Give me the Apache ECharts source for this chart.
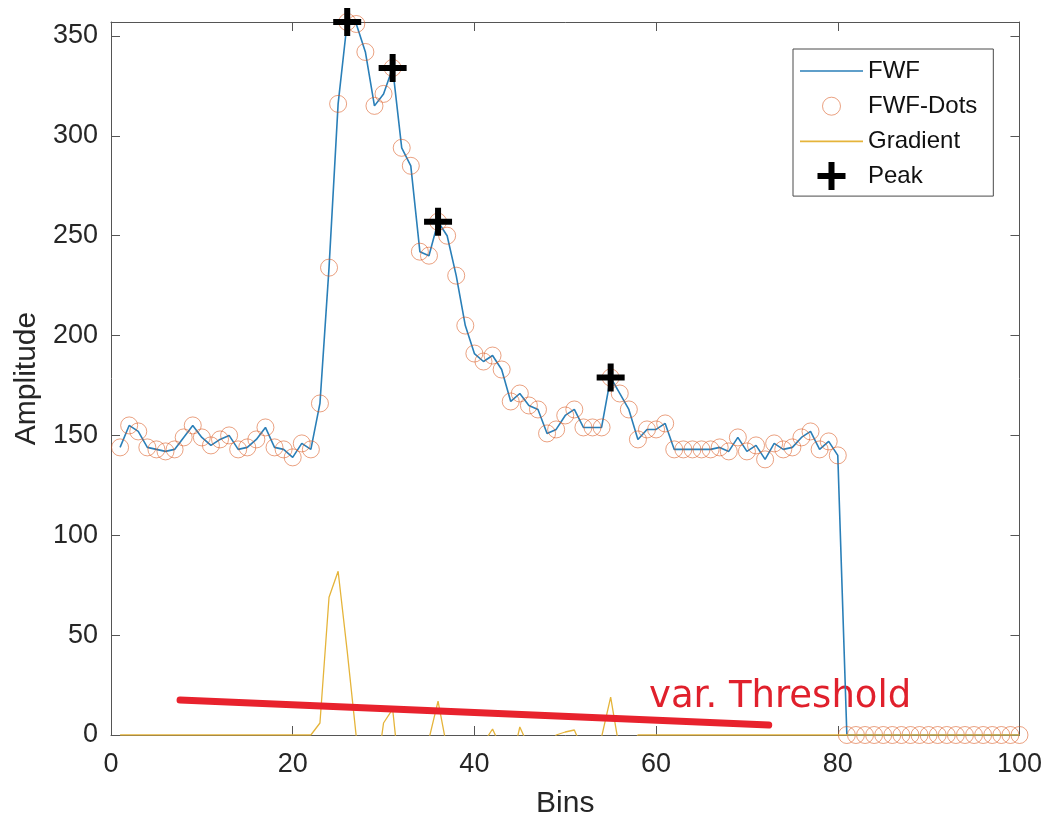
<!DOCTYPE html>
<html>
<head>
<meta charset="utf-8">
<script src="https://cdn.jsdelivr.net/npm/echarts@6/dist/echarts.min.js"></script>
<style>
  html, body { margin: 0; padding: 0; background: #ffffff; }
  #chart { width: 1045px; height: 824px; }
</style>
</head>
<body>
<div id="chart"></div>
<script>
// ---- data ----
const bins = Array.from({ length: 100 }, (_, i) => i + 1);
const fwf = [
  144, 155, 152, 144, 143, 142, 143, 149, 155, 149,
  145, 148, 150, 143, 144, 148, 154, 144, 143, 139,
  146, 143, 166, 234, 316, 357, 356, 342, 315, 321,
  334, 294, 285, 242, 240, 257, 250, 230, 205, 191,
  187, 190, 183, 167, 171, 165, 163, 151, 153, 160,
  163, 154, 154, 154, 179, 171, 163, 148, 153, 153,
  156, 143, 143, 143, 143, 143, 144, 142, 149, 142,
  145, 138, 146, 143, 144, 149, 152, 143, 147, 140,
  0, 0, 0, 0, 0, 0, 0, 0, 0, 0,
  0, 0, 0, 0, 0, 0, 0, 0, 0, 0
];
const gradient = [
  0, 0, 0, 0, 0, 0, 0, 0, 0, 0,
  0, 0, 0, 0, 0, 0, 0, 0, 0, 0,
  0, 0, 6, 69, 82, 42, -1, -14, -27, 6,
  13, -30, -9, -43, -2, 17, -7, -19, -25, -15,
  -4, 3, -7, -16, 4, -6, -2, -12, 0, 1.5,
  2.5, -8, -1, -1, 19, -8, -8, 0, 0, 0,
  0, 0, 0, 0, 0, 0, 0, 0, 0, 0,
  0, 0, 0, 0, 0, 0, 0, 0, 0, 0,
  0, 0, 0, 0, 0, 0, 0, 0, 0, 0,
  0, 0, 0, 0, 0, 0, 0, 0, 0, 0
];
const peakBins = [26, 31, 36, 55];
const peakValues = [357, 334, 257, 179];
const thresholdX = [7.6, 72.4];
const thresholdY = [17.5, 5];
const seriesNames = ['FWF', 'FWF-Dots', 'Gradient', 'Peak'];
const thresholdLabel = 'var. Threshold';
const xAxisName = 'Bins';
const yAxisName = 'Amplitude';

// ---- build ----
const fwfData = bins.map((b, i) => [b, fwf[i]]);
const gradData = bins.map((b, i) => [b, gradient[i]]);
const peakData = peakBins.map((b, i) => [b, peakValues[i]]);
const thrData = thresholdX.map((x, i) => [x, thresholdY[i]]);
const yMax = Math.max(...fwf);

const FONT = "'Liberation Sans', Arial, sans-serif";
const AX = '#555555';
const TXT = '#262626';
const BLUE = '#2a7fb8';
const ORANGE = '#D95319';
const YELLOW = '#E5B43A';
const plusPath = 'path://M11,0 H17 V11 H28 V17 H17 V28 H11 V17 H0 V11 H11 Z';
const circleLegendPath = 'path://M0,0 M28,28 M23,14 A9,9 0 1 1 5,14 A9,9 0 1 1 23,14 Z';
const lineLegendPath = 'path://M0,0 M63,28 M0,13.2 H63 V14.8 H0 Z';

const chart = echarts.init(document.getElementById('chart'), null, { renderer: 'canvas' });

const baseTick = { show: true, inside: true, length: 9, lineStyle: { color: AX, width: 1 } };

chart.setOption({
  animation: false,
  backgroundColor: '#ffffff',
  textStyle: { fontFamily: FONT },
  grid: { left: 111, right: 23, top: 22, bottom: 83, containLabel: false },
  legend: {
    orient: 'vertical',
    left: 793,
    top: 49,
    padding: [8, 16, 6, 7],
    itemWidth: 63,
    itemHeight: 28,
    itemGap: 6.7,
    backgroundColor: '#ffffff',
    borderColor: '#4a4a4a',
    borderWidth: 1,
    textStyle: { fontSize: 24, color: '#111111', fontFamily: FONT },
    data: [
      { name: seriesNames[0], icon: lineLegendPath,
        itemStyle: { color: BLUE, borderWidth: 0, opacity: 1 } },
      { name: seriesNames[1], icon: circleLegendPath,
        itemStyle: { color: 'rgba(0,0,0,0)', borderColor: ORANGE, borderWidth: 1, opacity: 0.55 } },
      { name: seriesNames[2], icon: lineLegendPath,
        itemStyle: { color: YELLOW, borderWidth: 0, opacity: 1 } },
      { name: seriesNames[3], icon: plusPath,
        itemStyle: { color: '#000000', borderWidth: 0, opacity: 1 } }
    ],
    selectedMode: false
  },
  xAxis: [
    {
      type: 'value', min: 0, max: 100, interval: 20,
      name: xAxisName, nameLocation: 'middle', nameGap: 54,
      nameTextStyle: { fontSize: 30, color: TXT, fontFamily: FONT },
      axisLine: { show: true, onZero: false, lineStyle: { color: AX, width: 1 } },
      axisTick: baseTick,
      axisLabel: { fontSize: 27, color: TXT, margin: 16, fontFamily: FONT },
      splitLine: { show: false }
    },
    {
      type: 'value', position: 'top', min: 0, max: 100, interval: 20,
      axisLine: { show: true, onZero: false, lineStyle: { color: AX, width: 1 } },
      axisTick: baseTick,
      axisLabel: { show: false },
      splitLine: { show: false }
    }
  ],
  yAxis: [
    {
      type: 'value', min: 0, max: yMax, interval: 50,
      name: yAxisName, nameLocation: 'middle', nameGap: 69,
      nameTextStyle: { fontSize: 30, color: TXT, fontFamily: FONT },
      axisLine: { show: true, onZero: false, lineStyle: { color: AX, width: 1 } },
      axisTick: baseTick,
      axisLabel: { fontSize: 27, color: TXT, margin: 13, fontFamily: FONT, showMaxLabel: false },
      splitLine: { show: false }
    },
    {
      type: 'value', position: 'right', min: 0, max: yMax, interval: 50,
      axisLine: { show: true, onZero: false, lineStyle: { color: AX, width: 1 } },
      axisTick: baseTick,
      axisLabel: { show: false },
      splitLine: { show: false }
    }
  ],
  graphic: [
    {
      type: 'text', x: 649, y: 697, z: 0,
      style: {
        text: thresholdLabel, fill: '#e0202c',
        font: "37px 'DejaVu Sans', 'Noto Sans', sans-serif",
        verticalAlign: 'middle', align: 'left'
      }
    }
  ],
  series: [
    {
      name: seriesNames[0], type: 'line', data: fwfData,
      symbol: 'none', showSymbol: false, z: 2,
      lineStyle: { color: BLUE, width: 1.6 },
      itemStyle: { color: BLUE }
    },
    {
      name: seriesNames[1], type: 'scatter', data: fwfData,
      symbol: 'circle', symbolSize: 17, z: 3,
      itemStyle: { color: 'rgba(0,0,0,0)', borderColor: ORANGE, borderWidth: 1, opacity: 0.55 }
    },
    {
      name: seriesNames[2], type: 'line', data: gradData,
      symbol: 'none', showSymbol: false, z: 4, clip: true,
      lineStyle: { color: YELLOW, width: 1.3 },
      itemStyle: { color: YELLOW }
    },
    {
      name: seriesNames[3], type: 'scatter', data: peakData,
      symbol: plusPath, symbolSize: 28, z: 5,
      itemStyle: { color: '#000000', opacity: 1 }
    },
    {
      name: 'threshold', type: 'line', data: thrData,
      symbol: 'none', showSymbol: false, z: 6, silent: true,
      lineStyle: { color: '#e8222d', width: 7, cap: 'round' }
    }
  ]
});
</script>
</body>
</html>
